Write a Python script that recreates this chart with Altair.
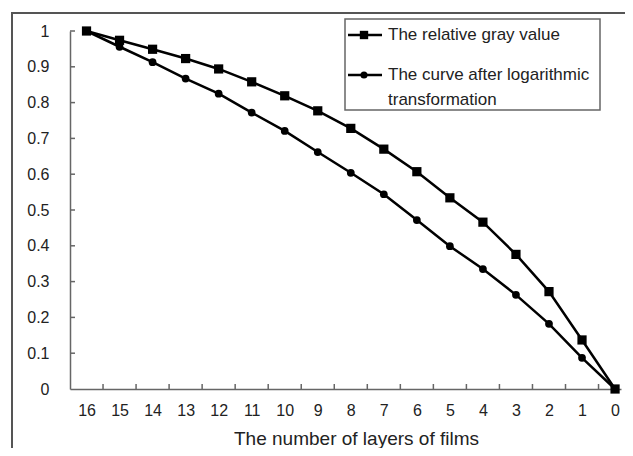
import altair as alt
import pandas as pd

# ---- data ----
layers = [16, 15, 14, 13, 12, 11, 10, 9, 8, 7, 6, 5, 4, 3, 2, 1, 0]
gray_value = [1.0, 0.974, 0.949, 0.923, 0.894, 0.858, 0.819, 0.777, 0.728,
              0.670, 0.607, 0.534, 0.466, 0.376, 0.272, 0.137, 0.0]
log_curve = [1.0, 0.956, 0.913, 0.867, 0.825, 0.772, 0.721, 0.662, 0.604,
             0.544, 0.472, 0.399, 0.335, 0.263, 0.182, 0.087, 0.0]
series_names = ["The relative gray value", "The curve after logarithmic transformation"]
y_ticks = [0, 0.1, 0.2, 0.3, 0.4, 0.5, 0.6, 0.7, 0.8, 0.9, 1]
x_tick_marks = [15.5, 14.5, 13.5, 12.5, 11.5, 10.5, 9.5, 8.5, 7.5, 6.5, 5.5, 4.5, 3.5, 2.5, 1.5, 0.5]
x_title = "The number of layers of films"

FONT = "Liberation Sans"
W, H = 551, 358

df = pd.DataFrame({
    "layers": layers * 2,
    "value": gray_value + log_curve,
    "series": [series_names[0]] * len(layers) + [series_names[1]] * len(layers),
})

x_scale = alt.Scale(domain=[-0.18, 16.5], reverse=True, nice=False, zero=False)
y_scale = alt.Scale(domain=[0, 1], nice=False)

x_axis = alt.Axis(values=layers, ticks=False, tickSize=0, grid=False,
                  labelFontSize=16, labelFont=FONT, labelColor="#222",
                  labelPadding=13, labelFlush=False, labelOverlap=False,
                  domainColor="#666", domainWidth=1.5,
                  title=x_title, titleFont=FONT, titleFontSize=19,
                  titleFontWeight="normal", titleColor="#222",
                  titleX=286, titleY=55, titleBaseline="alphabetic")
y_axis = alt.Axis(values=y_ticks, format=".1~f", ticks=False, tickSize=0,
                  grid=False, labelFontSize=16, labelFont=FONT,
                  labelColor="#222", labelPadding=21, labelFlush=False,
                  labelOverlap=False, domainColor="#666", domainWidth=1.5,
                  title=None)

shape_scale = alt.Scale(domain=series_names, range=["square", "circle"])
size_scale = alt.Scale(domain=series_names, range=[85, 60])

base = alt.Chart(df)

lines = base.mark_line(color="black", strokeWidth=2.5).encode(
    x=alt.X("layers:Q", scale=x_scale, axis=x_axis),
    y=alt.Y("value:Q", scale=y_scale, axis=y_axis),
    detail="series:N")
points = base.mark_point(filled=True, color="black", opacity=1).encode(
    x=alt.X("layers:Q", scale=x_scale, axis=x_axis),
    y=alt.Y("value:Q", scale=y_scale, axis=y_axis),
    shape=alt.Shape("series:N", scale=shape_scale, legend=None),
    size=alt.Size("series:N", scale=size_scale, legend=None))

# inward axis ticks
xt = alt.Chart(pd.DataFrame({"layers": x_tick_marks})).mark_rule(color="#666", strokeWidth=1.5).encode(
    x=alt.X("layers:Q", scale=x_scale, axis=x_axis), y=alt.value(H), y2=alt.value(H - 5))
yt = alt.Chart(pd.DataFrame({"value": y_ticks[1:]})).mark_rule(color="#666", strokeWidth=1.5).encode(
    y=alt.Y("value:Q", scale=y_scale, axis=y_axis), x=alt.value(0), x2=alt.value(5))

# outer frame
frame = alt.Chart(pd.DataFrame({"a": [0]})).mark_rect(
    fill=None, stroke="#555", strokeWidth=2).encode(
    x=alt.value(-58), x2=alt.value(W + 200), y=alt.value(-18), y2=alt.value(H + 200))

# legend
one = pd.DataFrame({"a": [0]})
leg_box = alt.Chart(one).mark_rect(
    fill="white", stroke="#666", strokeWidth=1.5).encode(
    x=alt.value(275), x2=alt.value(530), y=alt.value(-12), y2=alt.value(79))
leg_line1 = alt.Chart(one).mark_rule(color="black", strokeWidth=2.5).encode(
    x=alt.value(278), x2=alt.value(312), y=alt.value(4))
leg_line2 = alt.Chart(one).mark_rule(color="black", strokeWidth=2.5).encode(
    x=alt.value(278), x2=alt.value(312), y=alt.value(44))
leg_sym1 = alt.Chart(one).mark_point(
    shape="square", filled=True, color="black", size=70, opacity=1).encode(
    x=alt.value(294), y=alt.value(4))
leg_sym2 = alt.Chart(one).mark_point(
    shape="circle", filled=True, color="black", size=50, opacity=1).encode(
    x=alt.value(294), y=alt.value(44))
leg_txt1 = alt.Chart(one).mark_text(
    align="left", baseline="middle", font=FONT, fontSize=17, color="#222",
    text=series_names[0]).encode(x=alt.value(318), y=alt.value(4))
leg_txt2 = alt.Chart(one).mark_text(
    align="left", baseline="middle", font=FONT, fontSize=17, color="#222",
    text=["The curve after logarithmic", "transformation"], lineHeight=25).encode(
    x=alt.value(318), y=alt.value(44))

chart = alt.layer(
    frame, lines, points, xt, yt,
    leg_box, leg_line1, leg_line2, leg_sym1, leg_sym2, leg_txt1, leg_txt2
).properties(
    width=W, height=H,
    autosize=alt.AutoSizeParams(type="none"),
    padding={"left": 62, "top": 23, "right": 4, "bottom": 59},
    background="white",
).configure_view(stroke=None)

chart.save("out.html", embed_options={"renderer": "svg", "actions": False})
